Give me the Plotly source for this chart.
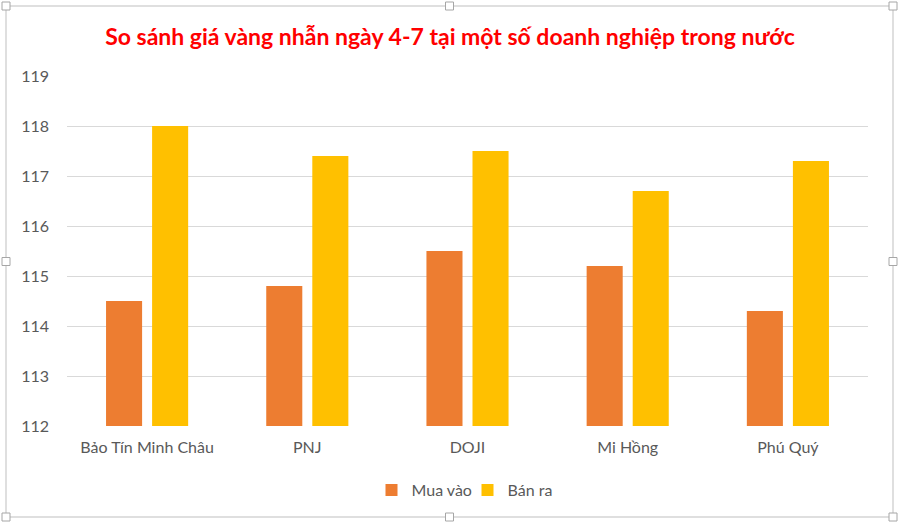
import plotly.graph_objects as go

categories = ["Bảo Tín Minh Châu", "PNJ", "DOJI", "Mi Hồng", "Phú Quý"]
mua_vao = [114.5, 114.8, 115.5, 115.2, 114.3]
ban_ra = [118.0, 117.4, 117.5, 116.7, 117.3]
y_ticks = [112, 113, 114, 115, 116, 117, 118, 119]

W, H = 900, 523
ML, MR, MT, MB = 67, 32, 76, 97
PW, PH = W - ML - MR, H - MT - MB

def px_x(p):
    return (p - ML) / PW

def px_y(p):
    return (H - MB - p) / PH

FONT = "Lato"

fig = go.Figure()
fig.add_trace(go.Bar(name="Mua vào", x=categories, y=mua_vao,
                     marker=dict(color="#ED7D31", line=dict(width=0))))
fig.add_trace(go.Bar(name="Bán ra", x=categories, y=ban_ra,
                     marker=dict(color="#FFC000", line=dict(width=0))))

shapes = [dict(type="rect", xref="paper", yref="paper",
               x0=px_x(6), x1=px_x(893), y0=px_y(517), y1=px_y(6),
               line=dict(color="#BFBFBF", width=1), fillcolor="rgba(0,0,0,0)", layer="below")]
for hx in (6, 449.5, 893):
    for hy in (6, 261.5, 517):
        if hx == 449.5 and hy == 261.5:
            continue
        shapes.append(dict(type="rect", xref="paper", yref="paper",
                           x0=px_x(hx - 4), x1=px_x(hx + 4), y0=px_y(hy + 4), y1=px_y(hy - 4),
                           line=dict(color="#A6A6A6", width=1), fillcolor="white"))

fig.update_layout(
    width=W, height=H,
    margin=dict(l=ML, r=MR, t=MT, b=MB),
    paper_bgcolor="white", plot_bgcolor="white",
    barmode="group", bargap=0.425, bargroupgap=0.217,
    title=dict(text="<b>So sánh giá vàng nhẫn ngày 4-7 tại một số doanh nghiệp trong nước</b>",
               x=0.5, xanchor="center", y=1 - 37 / H, yanchor="middle",
               font=dict(family=FONT, size=23, color="#FF0000")),
    font=dict(family=FONT, size=16, color="#595959"),
    xaxis=dict(showgrid=False, showline=False, ticks="", ticklabelstandoff=10,
               tickfont=dict(size=16, color="#595959")),
    yaxis=dict(range=[112, 119], tickvals=y_ticks, showgrid=True, gridcolor="#D9D9D9",
               gridwidth=1, zeroline=False, showline=False, ticks="",
               ticklabelstandoff=17, tickfont=dict(size=16, color="#595959")),
    legend=dict(orientation="h", x=0.5, xanchor="center", y=px_y(490), yanchor="middle",
                font=dict(size=16, color="#595959"), itemwidth=30, traceorder="normal",
                entrywidth=51, entrywidthmode="pixels"),
    shapes=shapes,
    showlegend=True,
)
fig.write_html("out.html", config={"displayModeBar": False},
               post_script="document.body.style.margin='0';document.body.style.padding='0';")
